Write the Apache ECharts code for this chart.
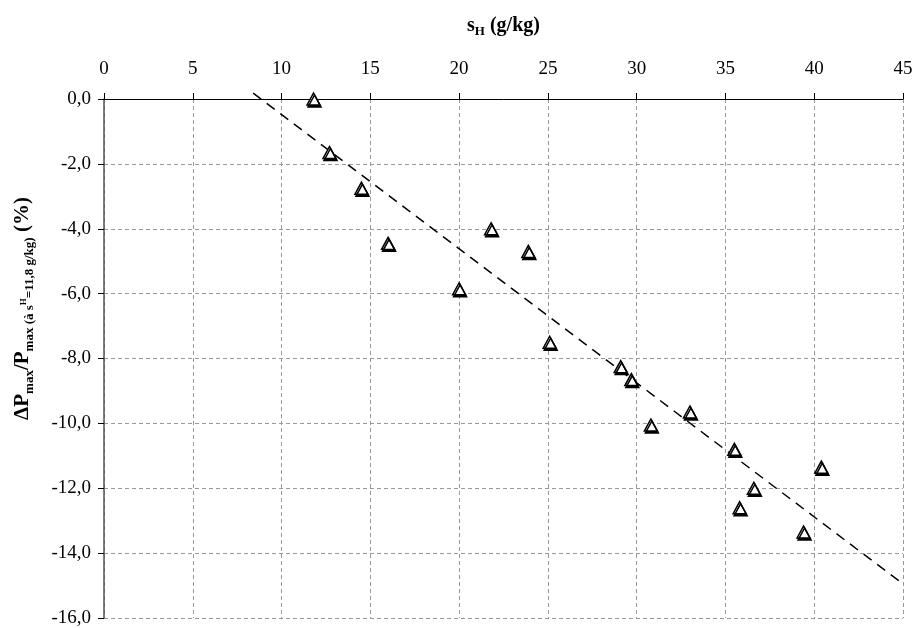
<!DOCTYPE html>
<html><head><meta charset="utf-8">
<script src="https://cdn.jsdelivr.net/npm/echarts@6/dist/echarts.min.js"></script>
<style>html,body{margin:0;padding:0;background:#fff}#c{width:916px;height:628px}</style>
</head><body><div id="c"></div>
<script>
const sH = [11.8, 12.7, 14.5, 16.0, 21.8, 23.9, 20.0, 25.1, 29.1, 29.7, 30.8, 33.0, 35.5, 36.6, 35.8, 40.4, 39.4];
const dP = [0.0, -1.65, -2.75, -4.45, -4.0, -4.7, -5.85, -7.5, -8.25, -8.65, -10.05, -9.65, -10.8, -12.0, -12.6, -11.35, -13.35];
const trendX = [8.4, 45];
const trendY = [0.18, -14.95];
const xTicks = [0, 5, 10, 15, 20, 25, 30, 35, 40, 45];
const yTicks = [0, -2, -4, -6, -8, -10, -12, -14, -16];

const font = '"Liberation Serif", "DejaVu Serif", serif';
const chart = echarts.init(document.getElementById('c'), null, {renderer: 'canvas'});
chart.setOption({
  animation: false,
  backgroundColor: '#fff',
  grid: {left: 104, top: 99, right: 13, bottom: 10, containLabel: false, outerBoundsMode: 'none'},
  xAxis: {
    type: 'value', position: 'top', min: xTicks[0], max: xTicks[xTicks.length - 1], interval: 5,
    name: '{b|s}{s|H}{b| (g/kg)}', nameLocation: 'middle', nameGap: 61,
    nameTextStyle: {rich: {
      b: {fontFamily: font, fontWeight: 'bold', fontSize: 20, color: '#000', lineHeight: 24, verticalAlign: 'middle'},
      s: {fontFamily: font, fontWeight: 'bold', fontSize: 13, color: '#000', lineHeight: 24, verticalAlign: 'bottom', padding: [7, 0, 0, 0]}
    }},
    axisLine: {show: true, onZero: false, lineStyle: {color: '#000', width: 1}},
    axisTick: {show: true, inside: false, length: 6, lineStyle: {color: '#000'}},
    axisLabel: {fontFamily: font, fontSize: 19, color: '#000', margin: 20},
    splitLine: {show: true, lineStyle: {color: '#999', type: [4, 3], width: 1}}
  },
  yAxis: {
    type: 'value', min: yTicks[yTicks.length - 1], max: yTicks[0], interval: 2,
    name: '{b|ΔP}{s|max}{b|/P}{s|max (à s}{t|H}{s|=11,8 g/kg)}{b| (%)}',
    nameLocation: 'middle', nameRotate: 90, nameGap: 68,
    nameTextStyle: {padding: [0, 0, 0, 100], rich: {
      b: {fontFamily: font, fontWeight: 'bold', fontSize: 21, color: '#000', lineHeight: 26, verticalAlign: 'middle'},
      s: {fontFamily: font, fontWeight: 'bold', fontSize: 13, color: '#000', lineHeight: 26, verticalAlign: 'bottom', padding: [7, 0, 0, 0]},
      t: {fontFamily: font, fontWeight: 'bold', fontSize: 9, color: '#000', lineHeight: 26, verticalAlign: 'bottom', padding: [0, 0, 8, 0]}
    }},
    axisLine: {show: true, onZero: false, lineStyle: {color: '#555', width: 1.5}},
    axisTick: {show: true, length: 6, lineStyle: {color: '#000'}},
    axisLabel: {fontFamily: font, fontSize: 19, color: '#000', margin: 13,
      formatter: v => v.toFixed(1).replace('.', ',')},
    splitLine: {show: true, lineStyle: {color: '#999', type: [4, 3], width: 1}}
  },
  series: [
    {
      type: 'line', data: trendX.map((x, i) => [x, trendY[i]]), showSymbol: false, symbol: 'none', clip: false,
      lineStyle: {color: '#000', width: 1.5, type: [10, 7]}, z: 2
    },
    {
      type: 'scatter', data: sH.map((x, i) => [x, dP[i]]), symbol: 'triangle', symbolSize: [13, 12], clip: false,
      itemStyle: {color: '#fff', borderColor: '#000', borderWidth: 1.5, shadowColor: '#000', shadowBlur: 0, shadowOffsetX: 1, shadowOffsetY: 2, opacity: 1},
      z: 3
    }
  ]
});
</script></body></html>
